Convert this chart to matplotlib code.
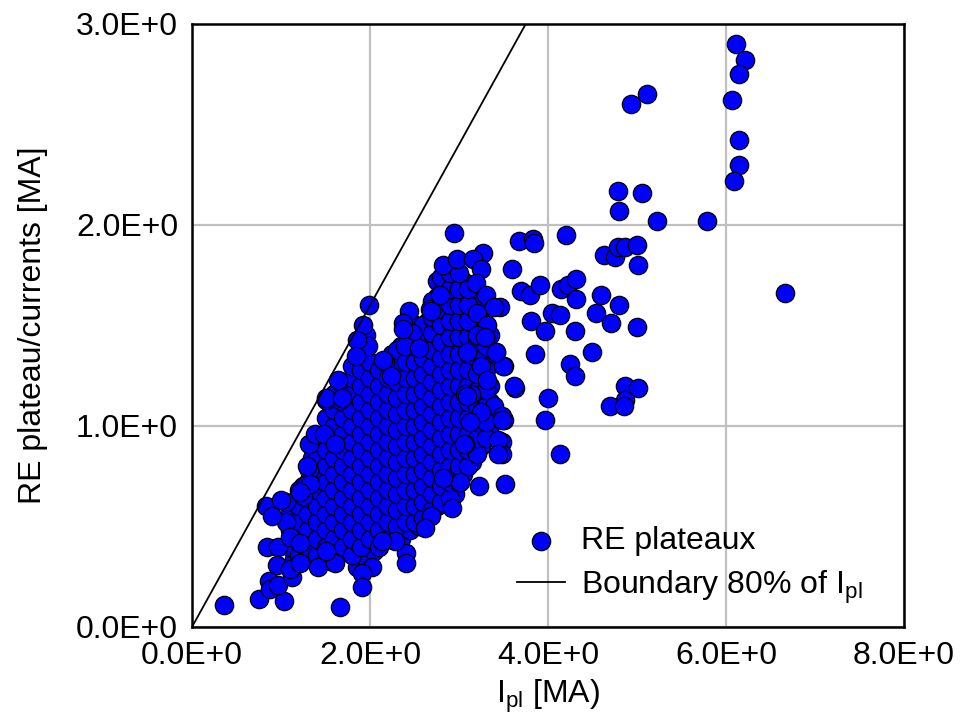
import matplotlib
matplotlib.use("Agg")
import matplotlib.pyplot as plt
from matplotlib.ticker import FuncFormatter, FixedLocator
import numpy as np

plt.rcParams['font.family'] = ['Liberation Sans', 'DejaVu Sans']
plt.rcParams['mathtext.fontset'] = 'custom'
plt.rcParams['mathtext.rm'] = 'Liberation Sans'
plt.rcParams['mathtext.it'] = 'Liberation Sans'

# ---- data: scattered / edge points (Ipl [MA], RE plateau [MA]) ----
outer_x = [6.11, 6.21, 6.15, 6.07, 6.15, 6.15, 6.09, 4.93, 5.11, 4.79, 5.06, 4.80, 5.22, 5.79,
           3.67, 3.83, 3.84, 4.20, 3.60, 4.63, 4.75, 4.79, 4.86, 5.00, 5.01, 6.66,
           3.70, 3.80, 3.91, 4.15, 4.23, 4.31, 4.31, 4.60, 4.80, 3.46, 4.04, 4.13, 3.81,
           4.54, 4.71, 5.00, 3.97, 4.30, 3.85, 4.49, 4.25, 4.30, 3.51, 3.63, 4.00, 3.97,
           4.87, 5.01, 4.87, 4.70, 4.85, 4.13, 3.50, 3.48, 3.48, 3.52,
           2.94, 3.27, 2.82, 2.98, 3.16, 3.25, 3.19, 3.30, 3.39, 3.31, 2.67,
           1.99, 1.92, 1.98, 1.85, 1.84, 2.17, 1.64, 2.44, 2.37, 2.47, 2.39, 2.55, 2.69,
           3.20, 3.09, 3.42, 3.25, 3.49, 3.62, 3.31, 3.39, 3.14, 3.07, 3.48, 3.25, 2.79,
           2.37, 2.15, 2.24, 3.29, 3.42, 3.09, 3.48, 3.12, 3.44, 3.44, 3.07,
           3.22, 3.01, 3.06, 2.92, 2.68, 2.62, 2.41, 2.41, 2.82,
           2.28, 2.13, 2.02, 1.91, 1.91, 1.66, 1.55,
           0.36, 0.75, 1.03, 0.83, 0.84, 0.97, 0.96, 0.87, 0.88, 0.97, 1.12, 1.10, 1.21,
           1.42, 1.06, 1.06, 1.10, 1.21, 1.31, 1.31, 1.38, 1.48, 1.61, 1.25, 1.33, 1.61,
           1.51, 1.66, 1.51, 1.68, 1.29, 1.21, 1.51, 0.90, 1.00]
outer_y = [2.90, 2.82, 2.75, 2.62, 2.42, 2.30, 2.22, 2.60, 2.65, 2.17, 2.16, 2.07, 2.02, 2.02,
           1.92, 1.93, 1.91, 1.95, 1.78, 1.85, 1.84, 1.89, 1.89, 1.90, 1.80, 1.66,
           1.67, 1.65, 1.70, 1.68, 1.70, 1.73, 1.63, 1.65, 1.60, 1.59, 1.56, 1.55, 1.52,
           1.56, 1.51, 1.49, 1.47, 1.47, 1.36, 1.37, 1.31, 1.25, 1.30, 1.19, 1.14, 1.03,
           1.20, 1.19, 1.13, 1.10, 1.10, 0.86, 1.03, 0.92, 0.86, 0.71,
           1.96, 1.86, 1.80, 1.83, 1.83, 1.78, 1.71, 1.65, 1.59, 1.50, 1.58,
           1.60, 1.50, 1.40, 1.43, 1.35, 1.32, 1.23, 1.57, 1.51, 1.46, 1.40, 1.39, 1.57,
           1.45, 1.37, 1.37, 1.30, 1.30, 1.20, 1.23, 1.10, 1.16, 1.16, 1.05, 1.07, 1.65,
           1.48, 1.33, 1.25, 1.44, 1.37, 1.15, 1.03, 1.02, 0.93, 0.86, 0.91,
           0.70, 0.72, 0.91, 0.59, 0.55, 0.49, 0.37, 0.32, 0.74,
           0.43, 0.43, 0.30, 0.27, 0.20, 0.10, 0.33,
           0.11, 0.14, 0.13, 0.60, 0.40, 0.40, 0.31, 0.23, 0.19, 0.21, 0.25, 0.29, 0.32,
           0.30, 0.62, 0.52, 0.45, 0.42, 0.78, 0.91, 0.96, 0.96, 0.91, 0.65, 0.71, 0.32,
           1.13, 1.13, 1.14, 1.14, 0.80, 0.67, 0.38, 0.55, 0.63]

# ---- data: dense core, read column by column ----
core_x = [1.15, 1.25, 1.35, 1.45, 1.55, 1.65, 1.75, 1.85, 1.95, 2.05, 2.15, 2.25,
          2.35, 2.45, 2.55, 2.65, 2.75, 2.85, 2.95, 3.05, 3.15, 3.25, 3.35]
core_y = [
    [0.34, 0.42, 0.50, 0.58],
    [0.38, 0.46, 0.54, 0.62, 0.70],
    [0.34, 0.42, 0.50, 0.58, 0.66, 0.74, 0.84],
    [0.38, 0.46, 0.54, 0.62, 0.70, 0.78, 0.86, 0.94],
    [0.42, 0.50, 0.58, 0.66, 0.74, 0.82, 0.90, 0.98, 1.06],
    [0.38, 0.46, 0.54, 0.62, 0.70, 0.78, 0.86, 0.94, 1.02, 1.10, 1.18],
    [0.42, 0.50, 0.58, 0.66, 0.74, 0.82, 0.90, 0.98, 1.06, 1.14, 1.22],
    [0.30, 0.38, 0.46, 0.54, 0.62, 0.70, 0.78, 0.86, 0.94, 1.02, 1.10, 1.18, 1.26],
    [0.34, 0.42, 0.50, 0.58, 0.66, 0.74, 0.82, 0.90, 0.98, 1.06, 1.14, 1.22, 1.30, 1.45],
    [0.38, 0.46, 0.54, 0.62, 0.70, 0.78, 0.86, 0.94, 1.02, 1.10, 1.18, 1.26],
    [0.44, 0.52, 0.60, 0.68, 0.76, 0.84, 0.92, 1.00, 1.08, 1.16, 1.24],
    [0.48, 0.56, 0.64, 0.72, 0.80, 0.88, 0.96, 1.04, 1.12, 1.20, 1.28, 1.36],
    [0.44, 0.52, 0.60, 0.68, 0.76, 0.84, 0.92, 1.00, 1.08, 1.16, 1.24, 1.32, 1.40],
    [0.48, 0.56, 0.64, 0.72, 0.80, 0.88, 0.96, 1.04, 1.12, 1.20, 1.28, 1.36, 1.44, 1.52],
    [0.50, 0.58, 0.66, 0.74, 0.82, 0.90, 0.98, 1.06, 1.14, 1.22, 1.30, 1.38, 1.46],
    [0.56, 0.64, 0.72, 0.80, 0.88, 0.96, 1.04, 1.12, 1.20, 1.28, 1.36, 1.44, 1.52],
    [0.60, 0.68, 0.76, 0.84, 0.92, 1.00, 1.08, 1.16, 1.24, 1.32, 1.40, 1.48, 1.56, 1.64, 1.72],
    [0.64, 0.72, 0.80, 0.88, 0.96, 1.04, 1.12, 1.20, 1.28, 1.36, 1.44, 1.52, 1.60, 1.68, 1.76],
    [0.66, 0.74, 0.82, 0.90, 0.98, 1.06, 1.14, 1.22, 1.30, 1.38, 1.46, 1.54, 1.62, 1.70, 1.78],
    [0.76, 0.84, 0.92, 1.00, 1.08, 1.16, 1.24, 1.32, 1.40, 1.48, 1.56, 1.64, 1.72],
    [0.82, 0.90, 0.98, 1.06, 1.14, 1.22, 1.30, 1.38, 1.46, 1.54, 1.62],
    [0.90, 0.98, 1.06, 1.14, 1.22, 1.30, 1.38, 1.52, 1.60],
    [0.96, 1.04, 1.12, 1.20, 1.35, 1.45],
]

# second, staggered set of core columns
core2_x = [1.10, 1.20, 1.30, 1.40, 1.50, 1.60, 1.70, 1.80, 1.90, 2.00, 2.10, 2.20,
           2.30, 2.40, 2.50, 2.60, 2.70, 2.80, 2.90, 3.00, 3.10, 3.20, 3.30]
core2_y = [
    [0.40, 0.48, 0.56],
    [0.36, 0.44, 0.52, 0.60, 0.68],
    [0.40, 0.48, 0.56, 0.64, 0.72, 0.80],
    [0.36, 0.44, 0.52, 0.60, 0.68, 0.76, 0.84, 0.92],
    [0.40, 0.48, 0.56, 0.64, 0.72, 0.80, 0.88, 0.96, 1.04],
    [0.44, 0.52, 0.60, 0.68, 0.76, 0.84, 0.92, 1.00, 1.08, 1.16],
    [0.40, 0.48, 0.56, 0.64, 0.72, 0.80, 0.88, 0.96, 1.04, 1.12, 1.20],
    [0.36, 0.44, 0.52, 0.60, 0.68, 0.76, 0.84, 0.92, 1.00, 1.08, 1.16, 1.24, 1.30],
    [0.40, 0.48, 0.56, 0.64, 0.72, 0.80, 0.88, 0.96, 1.04, 1.12, 1.20, 1.28, 1.38],
    [0.44, 0.52, 0.60, 0.68, 0.76, 0.84, 0.92, 1.00, 1.08, 1.16, 1.24, 1.32],
    [0.40, 0.48, 0.56, 0.64, 0.72, 0.80, 0.88, 0.96, 1.04, 1.12, 1.20, 1.28],
    [0.44, 0.52, 0.60, 0.68, 0.76, 0.84, 0.92, 1.00, 1.08, 1.16, 1.24, 1.32],
    [0.50, 0.58, 0.66, 0.74, 0.82, 0.90, 0.98, 1.06, 1.14, 1.22, 1.30, 1.38],
    [0.52, 0.60, 0.68, 0.76, 0.84, 0.92, 1.00, 1.08, 1.16, 1.24, 1.32, 1.40, 1.48],
    [0.52, 0.60, 0.68, 0.76, 0.84, 0.92, 1.00, 1.08, 1.16, 1.24, 1.32, 1.40, 1.50],
    [0.54, 0.62, 0.70, 0.78, 0.86, 0.94, 1.02, 1.10, 1.18, 1.26, 1.34, 1.42, 1.50],
    [0.58, 0.66, 0.74, 0.82, 0.90, 0.98, 1.06, 1.14, 1.22, 1.30, 1.38, 1.46, 1.54, 1.62],
    [0.62, 0.70, 0.78, 0.86, 0.94, 1.02, 1.10, 1.18, 1.26, 1.34, 1.42, 1.50, 1.58, 1.66, 1.74],
    [0.64, 0.72, 0.80, 0.88, 0.96, 1.04, 1.12, 1.20, 1.28, 1.36, 1.44, 1.52, 1.60, 1.68, 1.76],
    [0.72, 0.80, 0.88, 0.96, 1.04, 1.12, 1.20, 1.28, 1.36, 1.44, 1.52, 1.60, 1.68, 1.76],
    [0.80, 0.88, 0.96, 1.04, 1.12, 1.20, 1.28, 1.36, 1.44, 1.52, 1.60, 1.68],
    [0.86, 0.94, 1.02, 1.10, 1.18, 1.26, 1.34, 1.42, 1.56],
    [0.94, 1.02, 1.10, 1.18, 1.28, 1.40],
]

boundary_frac = 0.8
x_ticks = [0, 2, 4, 6, 8]
y_ticks = [0, 1, 2, 3]

# ---- assemble ----
cx, cy = [], []
for cols, yss in ((core_x, core_y), (core2_x, core2_y)):
    for xv, ys in zip(cols, yss):
        for yv in ys:
            cx.append(xv)
            cy.append(yv)
all_x = np.array(cx + outer_x)
all_y = np.array(cy + outer_y)

fig = plt.figure(figsize=(9.6, 7.24), dpi=100)
ax = fig.add_axes([0.2, 0.134, 0.7417, 0.833])

ax.grid(True, color='#c0c0c0', linewidth=1.6, zorder=0)
ax.set_axisbelow(True)

sc = ax.scatter(all_x, all_y, s=175, c='#0000ff', edgecolors='black',
                linewidths=0.9, zorder=3, label='RE plateaux', clip_on=True)
xl = np.array([0, 8])
ln, = ax.plot(xl, boundary_frac * xl, color='black', linewidth=1.3, zorder=4,
              label=r'Boundary 80% of I$_{\mathrm{pl}}$')

ax.set_xlim(0, 8)
ax.set_ylim(0, 3)
ax.xaxis.set_major_locator(FixedLocator(x_ticks))
ax.yaxis.set_major_locator(FixedLocator(y_ticks))
fmt = FuncFormatter(lambda v, p: f"{v:.1f}E+0")
ax.xaxis.set_major_formatter(fmt)
ax.yaxis.set_major_formatter(fmt)
ax.tick_params(length=0, labelsize=23, pad=10, colors='black')
for s in ax.spines.values():
    s.set_linewidth(1.8)
    s.set_color('black')

ax.set_xlabel(r'I$_{\mathrm{pl}}$ [MA)', fontsize=23, labelpad=5)
ax.set_ylabel('RE plateau/currents [MA]', fontsize=23, labelpad=20)

leg = ax.legend(handles=[sc, ln], loc='lower left', bbox_to_anchor=(0.438, 0.014),
                frameon=False, fontsize=23, handlelength=1.5, handletextpad=0.5,
                labelspacing=0.38, borderaxespad=0, scatterpoints=1)

fig.savefig('out.png', dpi=100)
